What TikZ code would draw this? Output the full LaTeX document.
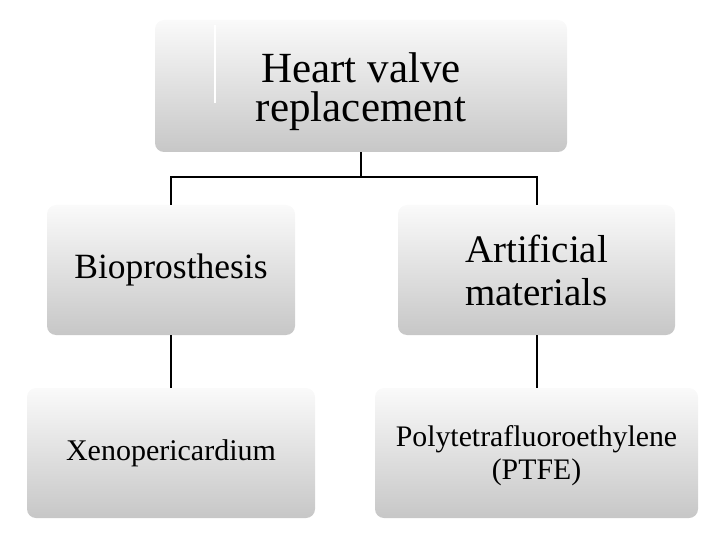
\documentclass[tikz,border=0pt]{standalone}
\usepackage{fontspec}
\setmainfont{Liberation Serif}
\begin{document}
\begin{tikzpicture}[x=1pt,y=-1pt,
  box/.style={rounded corners=9pt, inner sep=0pt, align=center,
    top color=white!98!black, middle color=white!95!black, bottom color=black!22},
  conn/.style={draw=black, line width=2pt}]
\useasboundingbox (0,0) rectangle (720,540);
\node[box, minimum width=412pt, minimum height=132pt] (top) at (361,86) {};
\node[align=center, inner sep=0pt, font=\fontsize{43}{39}\selectfont]
  (toptext) at (361,92) {Heart valve\\ replacement};
\draw[white, line width=1.5pt] (215,25) -- (215,103);
\node[box, minimum width=248pt, minimum height=130pt,
  font=\fontsize{35.5}{40}\selectfont] (bio) at (171,270)
  {Bioprosthesis};
\node[box, minimum width=277pt, minimum height=130pt,
  font=\fontsize{39}{43}\selectfont] (art) at (536.5,270)
  {Artificial\\ materials};
\node[box, minimum width=288pt, minimum height=130pt,
  font=\fontsize{30}{34}\selectfont] (xeno) at (171,453)
  {Xenopericardium};
\node[box, minimum width=323pt, minimum height=130pt] (ptfe) at (536.5,453) {};
\node[align=center, inner sep=0pt, font=\fontsize{29.8}{33}\selectfont]
  (ptfetext) at (536.5,456) {Polytetrafluoroethylene\\ (PTFE)};
\coordinate (j) at (361,177);
\draw[conn] (top.south) -- (j);
\draw[conn] (j) -| (bio.north);
\draw[conn] (j) -| (art.north);
\draw[conn] (bio.south) -- (xeno.north);
\draw[conn] (art.south) -- (ptfe.north);
\end{tikzpicture}
\end{document}
